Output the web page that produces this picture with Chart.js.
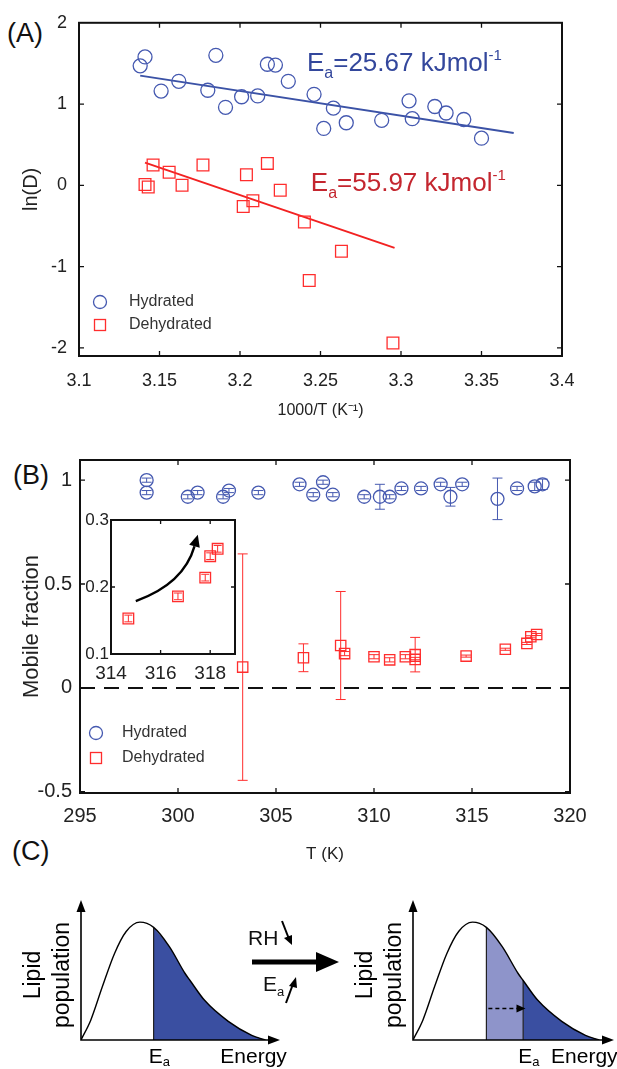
<!DOCTYPE html>
<html>
<head>
<meta charset="UTF-8" />
<title>Lipid diffusion vs temperature</title>
<script src="https://cdn.jsdelivr.net/npm/chart.js"></script>
<style>
  body { margin: 0; background: #fff; width: 617px; height: 1069px; position: relative; overflow: hidden;
         font-family: "Liberation Sans", Arial, sans-serif; color: #111; }
  canvas { position: absolute; }
  .tag { position: absolute; font-size: 27px; line-height: 1; color: #111; }
  .txt { position: absolute; line-height: 1; color: #111; white-space: nowrap; }
  sub { font-size: 62%; vertical-align: -0.35em; }
</style>
</head>
<body>
<div class="tag" style="left:7px;top:20px">(A)</div>
<div class="tag" style="left:13px;top:462px">(B)</div>
<div class="tag" style="left:12px;top:838px">(C)</div>

<canvas id="chartA" width="617" height="425" style="left:0;top:0"></canvas>
<canvas id="chartB" width="617" height="435" style="left:0;top:440px"></canvas>
<canvas id="inset" width="170" height="190" style="left:80px;top:505px"></canvas>
<canvas id="schemeL" width="300" height="189" style="left:0;top:880px"></canvas>
<canvas id="schemeR" width="287" height="189" style="left:330px;top:880px"></canvas>

<div class="txt" style="left:248px;top:927px;font-size:21px">RH</div>
<div class="txt" style="left:263px;top:973px;font-size:21px">E<sub>a</sub></div>
<svg style="position:absolute;left:230px;top:900px" width="130" height="120">
  <line x1="22" y1="62" x2="90" y2="62" stroke="#000" stroke-width="5"/>
  <polygon points="109,62 86,52 86,72" fill="#000"/>
  <line x1="52" y1="21" x2="59" y2="39" stroke="#000" stroke-width="2"/>
  <polygon points="62,45 54,38 62,35" fill="#000"/>
  <line x1="56" y1="103" x2="63" y2="84" stroke="#000" stroke-width="2"/>
  <polygon points="66,77 59,86 67,88" fill="#000"/>
</svg>

<script>
// ---------- (A) ln(D) vs 1000/T ----------
const hydInvT = [3.138, 3.141, 3.151, 3.162, 3.180, 3.185, 3.191, 3.201, 3.211, 3.217, 3.222, 3.230,
                 3.246, 3.252, 3.258, 3.266, 3.288, 3.305, 3.307, 3.321, 3.328, 3.339, 3.350];
const hydLnD  = [1.47, 1.58, 1.16, 1.28, 1.17, 1.60, 0.96, 1.09, 1.10, 1.49, 1.48, 1.28,
                 1.12, 0.70, 0.95, 0.77, 0.80, 1.04, 0.82, 0.97, 0.89, 0.81, 0.58];
const dehInvT = [3.141, 3.143, 3.146, 3.156, 3.164, 3.177, 3.202, 3.204, 3.208, 3.217, 3.225,
                 3.240, 3.243, 3.263, 3.295];
const dehLnD  = [0.01, -0.02, 0.25, 0.16, 0.00, 0.25, -0.26, 0.13, -0.19, 0.27, -0.06,
                 -0.45, -1.17, -0.81, -1.94];
const hydFitX = [3.138, 3.370];
const hydFitY = [1.35, 0.645];
const dehFitX = [3.141, 3.296];
const dehFitY = [0.28, -0.77];
const ticksInvT = [3.1, 3.15, 3.2, 3.25, 3.3, 3.35, 3.4];
const ticksLnD  = [-2, -1, 0, 1, 2];

// ---------- (B) mobile fraction vs T ----------
const hydT   = [298.4, 298.4, 300.5, 301.0, 302.3, 302.6, 304.1, 306.2, 306.9, 307.4, 307.9, 309.5,
                310.3, 310.8, 311.4, 312.4, 313.4, 313.9, 314.5, 316.3, 317.3, 318.2, 318.6];
const hydMF  = [1.00, 0.94, 0.92, 0.94, 0.92, 0.95, 0.94, 0.98, 0.93, 0.99, 0.93, 0.92,
                0.92, 0.92, 0.96, 0.96, 0.98, 0.92, 0.98, 0.91, 0.96, 0.97, 0.98];
const hydErr = [0.01, 0.01, 0.01, 0.01, 0.01, 0.01, 0.01, 0.01, 0.01, 0.01, 0.01, 0.01,
                0.06, 0.01, 0.01, 0.01, 0.01, 0.045, 0.01, 0.1, 0.01, 0.02, 0.025];
const dehT   = [303.3, 306.4, 308.3, 308.5, 310.0, 310.8, 311.6, 312.1, 312.1, 314.7, 316.7,
                317.8, 318.0, 318.3];
const dehMF  = [0.10, 0.145, 0.204, 0.165, 0.15, 0.135, 0.15, 0.16, 0.137, 0.153, 0.186,
                0.214, 0.246, 0.257];
const dehErr = [0.545, 0.067, 0.26, 0.01, 0.01, 0.01, 0.01, 0.083, 0.01, 0.005, 0.005,
                0.005, 0.005, 0.005];
const zeroLineT = [295, 320];
const zeroLineMF = [0, 0];
const ticksT  = [295, 300, 305, 310, 315, 320];
const ticksMF = [-0.5, 0, 0.5, 1];
const insetTicksT  = [314, 316, 318];
const insetTicksMF = [0.1, 0.2, 0.3];
const insetArrowT  = [315.0, 316.93, 317.5];   // start, control, tip
const insetArrowMF = [0.179, 0.2045, 0.278];

// ---------- (C) schematic energy distribution ----------
const energy     = [0, 0.49, 1.08, 1.68, 2.27, 2.96, 3.65, 4.44, 5.23, 5.48, 6.21, 7.40, 8.58, 9.27];
const population = [0, 0.17, 0.46, 0.74, 0.93, 1.01, 0.965, 0.80, 0.57, 0.51, 0.34, 0.16, 0.04, 0];
const eaBefore = 3.65;
const eaAfter  = 5.48;
const shiftArrowE = [3.75, 5.3];
const shiftArrowP = [0.27, 0.27];

const BLUE = '#4559b0', RED = '#ff2d2d', LINE_BLUE = '#3b52a6', LINE_RED = '#f22222';
const TXT_BLUE = '#33479c', TXT_RED = '#c4262f';
const FONT = '"Liberation Sans", Arial, sans-serif';

const pts = (xs, ys) => xs.map((x, i) => ({ x: x, y: ys[i] }));
const setTicks = vals => scale => { scale.ticks = vals.map(v => ({ value: v })); };

// MATLAB-like box with inward ticks
const frame = {
  id: 'frame',
  afterDraw(chart, args, o) {
    const { ctx, chartArea: a, scales: { x, y } } = chart;
    ctx.save();
    ctx.strokeStyle = '#111';
    ctx.lineWidth = 1.3;
    const L = o.tick || 5;
    ctx.beginPath();
    x.ticks.forEach(t => {
      const p = x.getPixelForValue(t.value);
      if (p <= a.left + 1 || p >= a.right - 1) return;
      ctx.moveTo(p, a.bottom); ctx.lineTo(p, a.bottom - L);
      ctx.moveTo(p, a.top); ctx.lineTo(p, a.top + L);
    });
    y.ticks.forEach(t => {
      const p = y.getPixelForValue(t.value);
      if (p <= a.top + 1 || p >= a.bottom - 1) return;
      ctx.moveTo(a.left, p); ctx.lineTo(a.left + L, p);
      ctx.moveTo(a.right, p); ctx.lineTo(a.right - L, p);
    });
    ctx.stroke();
    ctx.lineWidth = o.width || 2;
    ctx.strokeRect(a.left, a.top, a.right - a.left, a.bottom - a.top);
    ctx.restore();
  }
};

const errorBars = {
  id: 'errorBars',
  beforeDatasetsDraw(chart) {
    const { ctx, chartArea: a, scales: { x, y } } = chart;
    ctx.save();
    ctx.beginPath();
    ctx.rect(a.left, a.top, a.right - a.left, a.bottom - a.top);
    ctx.clip();
    chart.data.datasets.forEach(ds => {
      if (!ds.errors) return;
      ctx.strokeStyle = ds.borderColor;
      ctx.lineWidth = 1;
      ds.data.forEach((p, i) => {
        const e = ds.errors[i];
        const px = x.getPixelForValue(p.x);
        const y1 = y.getPixelForValue(p.y + e), y2 = y.getPixelForValue(p.y - e);
        const c = ds.capHalf;
        ctx.beginPath();
        ctx.moveTo(px, y1); ctx.lineTo(px, y2);
        ctx.moveTo(px - c, y1); ctx.lineTo(px + c, y1);
        ctx.moveTo(px - c, y2); ctx.lineTo(px + c, y2);
        ctx.stroke();
      });
    });
    ctx.restore();
  }
};

// legend drawn inside the plot box, lower left
const boxLegend = {
  id: 'boxLegend',
  afterDraw(chart, args, o) {
    const { ctx, chartArea: a } = chart;
    ctx.save();
    ctx.font = o.size + 'px ' + FONT;
    ctx.textBaseline = 'middle';
    ctx.lineWidth = 1.3;
    const mx = a.left + o.dx;
    ctx.strokeStyle = BLUE;
    ctx.beginPath(); ctx.arc(mx, a.bottom + o.dy1, 6.5, 0, 2 * Math.PI); ctx.stroke();
    ctx.strokeStyle = RED;
    ctx.strokeRect(mx - 5.5, a.bottom + o.dy2 - 5.5, 11, 11);
    ctx.fillStyle = '#333';
    ctx.fillText('Hydrated', mx + o.tx, a.bottom + o.dy1);
    ctx.fillText('Dehydrated', mx + o.tx, a.bottom + o.dy2);
    ctx.restore();
  }
};

function richText(ctx, parts, x, y) {
  parts.forEach(p => {
    ctx.font = p.size + 'px ' + FONT;
    ctx.fillText(p.t, x, y + (p.dy || 0));
    x += ctx.measureText(p.t).width;
  });
}

const eaLabels = {
  id: 'eaLabels',
  afterDatasetsDraw(chart, args, o) {
    const { ctx, scales: { x, y } } = chart;
    ctx.save();
    ctx.textBaseline = 'alphabetic';
    o.items.forEach(it => {
      ctx.fillStyle = it.color;
      richText(ctx, [
        { t: 'E', size: 26 }, { t: 'a', size: 16, dy: 7 },
        { t: '=' + it.value + ' kJmol', size: 26 }, { t: '-1', size: 15, dy: -11 }
      ], x.getPixelForValue(it.x), y.getPixelForValue(it.y));
    });
    ctx.restore();
  }
};

// ---------- chart A ----------
new Chart(document.getElementById('chartA'), {
  type: 'scatter',
  data: {
    datasets: [
      { data: pts(hydInvT, hydLnD), pointStyle: 'circle', pointRadius: 7, borderColor: BLUE,
        backgroundColor: 'rgba(0,0,0,0)', pointBorderWidth: 1.3 },
      { data: pts(dehInvT, dehLnD), pointStyle: 'rect', pointRadius: 8.3, borderColor: RED,
        backgroundColor: 'rgba(0,0,0,0)', pointBorderWidth: 1.3 },
      { data: pts(hydFitX, hydFitY), showLine: true, pointRadius: 0, borderColor: LINE_BLUE, borderWidth: 2 },
      { data: pts(dehFitX, dehFitY), showLine: true, pointRadius: 0, borderColor: LINE_RED, borderWidth: 2 }
    ]
  },
  options: {
    responsive: false, animation: false, events: [],
    layout: { padding: { top: 18, right: 55, left: 0, bottom: 0 } },
    plugins: {
      legend: { display: false }, tooltip: { enabled: false },
      frame: { width: 2, tick: 5 },
      boxLegend: { size: 16, dx: 21, dy1: -54, dy2: -31, tx: 29 },
      eaLabels: { items: [
        { x: 3.2416, y: 1.405, value: '25.67', color: TXT_BLUE },
        { x: 3.244, y: -0.075, value: '55.97', color: TXT_RED }
      ] }
    },
    scales: {
      x: {
        type: 'linear', min: 3.1, max: 3.4,
        afterBuildTicks: setTicks(ticksInvT),
        afterFit: s => { s.height = 69; },
        grid: { display: false, drawTicks: false }, border: { display: false },
        ticks: { padding: 14, color: '#222', font: { size: 18, family: FONT }, callback: v => String(v), maxRotation: 0 },
        title: { display: true, text: '1000/T (K\u207B\u00B9)', color: '#222', font: { size: 16, family: FONT },
                 padding: { top: 0, bottom: 5 } }
      },
      y: {
        min: -2.1, max: 2,
        afterBuildTicks: setTicks(ticksLnD),
        afterFit: s => { s.width = 79; },
        grid: { display: false, drawTicks: false }, border: { display: false },
        ticks: { padding: 12, color: '#222', font: { size: 18, family: FONT }, callback: v => String(v) },
        title: { display: true, text: 'ln(D)', color: '#222', font: { size: 20, family: FONT },
                 padding: { top: 19, bottom: 0 } }
      }
    }
  },
  plugins: [frame, boxLegend, eaLabels]
});

// ---------- chart B ----------
new Chart(document.getElementById('chartB'), {
  type: 'scatter',
  data: {
    datasets: [
      { data: pts(hydT, hydMF), errors: hydErr, capHalf: 5, pointStyle: 'circle', pointRadius: 6.5,
        borderColor: BLUE, backgroundColor: 'rgba(0,0,0,0)', pointBorderWidth: 1.3 },
      { data: pts(dehT, dehMF), errors: dehErr, capHalf: 5, pointStyle: 'rect', pointRadius: 7.3,
        borderColor: RED, backgroundColor: 'rgba(0,0,0,0)', pointBorderWidth: 1.3 },
      { data: pts(zeroLineT, zeroLineMF), showLine: true, pointRadius: 0, borderColor: '#111',
        borderWidth: 2, borderDash: [15, 9] }
    ]
  },
  options: {
    responsive: false, animation: false, events: [],
    layout: { padding: { top: 20, right: 47, left: 0, bottom: 0 } },
    plugins: {
      legend: { display: false }, tooltip: { enabled: false },
      frame: { width: 2, tick: 5 },
      boxLegend: { size: 16, dx: 16, dy1: -60, dy2: -35, tx: 26 }
    },
    scales: {
      x: {
        type: 'linear', min: 295, max: 320,
        afterBuildTicks: setTicks(ticksT),
        afterFit: s => { s.height = 82; },
        grid: { display: false, drawTicks: false }, border: { display: false },
        ticks: { padding: 11, color: '#222', font: { size: 20, family: FONT }, callback: v => String(v), maxRotation: 0 },
        title: { display: true, text: 'T (K)', color: '#222', font: { size: 17, family: FONT },
                 padding: { top: 0, bottom: 10 } }
      },
      y: {
        min: -0.506, max: 1.097,
        afterBuildTicks: setTicks(ticksMF),
        afterFit: s => { s.width = 80; },
        grid: { display: false, drawTicks: false }, border: { display: false },
        ticks: { padding: 8, color: '#222', font: { size: 20, family: FONT }, callback: v => String(v) },
        title: { display: true, text: 'Mobile fraction', color: '#222', font: { size: 22, family: FONT },
                 padding: { top: 19, bottom: 0 } }
      }
    }
  },
  plugins: [errorBars, frame, boxLegend]
});

// ---------- inset ----------
const insetBg = {
  id: 'insetBg',
  beforeDraw(chart) {
    const { ctx, chartArea: a } = chart;
    ctx.save(); ctx.fillStyle = '#fff';
    ctx.fillRect(a.left, a.top, a.right - a.left, a.bottom - a.top);
    ctx.restore();
  }
};
const curvedArrow = {
  id: 'curvedArrow',
  afterDatasetsDraw(chart) {
    const { ctx, scales: { x, y } } = chart;
    const p = insetArrowT.map((t, i) => [x.getPixelForValue(t), y.getPixelForValue(insetArrowMF[i])]);
    const ang = Math.atan2(p[2][1] - p[1][1], p[2][0] - p[1][0]);
    const hl = 12, hw = 5.5;
    const bx = p[2][0] - hl * Math.cos(ang), by = p[2][1] - hl * Math.sin(ang);
    ctx.save();
    ctx.strokeStyle = '#000'; ctx.fillStyle = '#000'; ctx.lineWidth = 2.5;
    ctx.beginPath();
    ctx.moveTo(p[0][0], p[0][1]);
    ctx.quadraticCurveTo(p[1][0], p[1][1], bx, by);
    ctx.stroke();
    ctx.beginPath();
    ctx.moveTo(p[2][0], p[2][1]);
    ctx.lineTo(bx + hw * Math.sin(ang), by - hw * Math.cos(ang));
    ctx.lineTo(bx - hw * Math.sin(ang), by + hw * Math.cos(ang));
    ctx.closePath(); ctx.fill();
    ctx.restore();
  }
};
const insetT = dehT.filter(t => t >= 314);
const insetIdx = dehT.map((t, i) => i).filter(i => dehT[i] >= 314);
new Chart(document.getElementById('inset'), {
  type: 'scatter',
  data: {
    datasets: [
      { data: pts(insetT, insetIdx.map(i => dehMF[i])), errors: insetIdx.map(i => dehErr[i]), capHalf: 4,
        pointStyle: 'rect', pointRadius: 7.5, borderColor: RED, backgroundColor: 'rgba(0,0,0,0)', pointBorderWidth: 1.3 }
    ]
  },
  options: {
    responsive: false, animation: false, events: [],
    layout: { padding: { top: 15, right: 15, left: 0, bottom: 0 } },
    plugins: { legend: { display: false }, tooltip: { enabled: false }, frame: { width: 2, tick: 4 } },
    scales: {
      x: {
        type: 'linear', min: 314, max: 319,
        afterBuildTicks: setTicks(insetTicksT),
        afterFit: s => { s.height = 41; },
        grid: { display: false, drawTicks: false }, border: { display: false },
        ticks: { padding: 8, color: '#222', font: { size: 19, family: '"Liberation Sans Narrow", ' + FONT }, callback: v => String(v), maxRotation: 0 }
      },
      y: {
        min: 0.1, max: 0.3,
        afterBuildTicks: setTicks(insetTicksMF),
        afterFit: s => { s.width = 31; },
        grid: { display: false, drawTicks: false }, border: { display: false },
        ticks: { padding: 2, color: '#222', font: { size: 17, family: '"Liberation Sans Narrow", ' + FONT }, callback: v => String(v) }
      }
    }
  },
  plugins: [insetBg, errorBars, frame, curvedArrow]
});

// ---------- (C) schematics ----------
const schemeDecor = {
  id: 'schemeDecor',
  afterDraw(chart, args, o) {
    const { ctx, chartArea: a, scales: { x } } = chart;
    ctx.save();
    ctx.strokeStyle = '#000'; ctx.fillStyle = '#000'; ctx.lineWidth = 1.6;
    ctx.beginPath();
    ctx.moveTo(a.left, a.top + 8); ctx.lineTo(a.left, a.bottom); ctx.lineTo(a.right - 8, a.bottom);
    ctx.stroke();
    ctx.beginPath();
    ctx.moveTo(a.left, a.top); ctx.lineTo(a.left - 4.5, a.top + 12); ctx.lineTo(a.left + 4.5, a.top + 12);
    ctx.closePath(); ctx.fill();
    ctx.beginPath();
    ctx.moveTo(a.right, a.bottom); ctx.lineTo(a.right - 12, a.bottom - 4.5); ctx.lineTo(a.right - 12, a.bottom + 4.5);
    ctx.closePath(); ctx.fill();
    ctx.textBaseline = 'top';
    richText(ctx, [{ t: 'E', size: 21 }, { t: 'a', size: 13, dy: 9 }], x.getPixelForValue(o.ea) - 5, a.bottom + 7);
    ctx.font = '21px ' + FONT;
    ctx.fillText('Energy', x.getPixelForValue(o.energyAt), a.bottom + 7);
    ctx.translate(a.left, (a.top + a.bottom) / 2 + 5);
    ctx.rotate(-Math.PI / 2);
    ctx.textAlign = 'center'; ctx.textBaseline = 'middle';
    ctx.font = '23px ' + FONT;
    ctx.fillText('Lipid', 0, -47);
    ctx.fillText('population', 0, -18);
    ctx.restore();
  }
};
const dashHead = {
  id: 'dashHead',
  afterDatasetsDraw(chart, args, o) {
    if (!o.on) return;
    const { ctx, scales: { x, y } } = chart;
    const px = x.getPixelForValue(shiftArrowE[1]), py = y.getPixelForValue(shiftArrowP[1]);
    ctx.save(); ctx.fillStyle = '#000';
    ctx.beginPath(); ctx.moveTo(px + 6, py); ctx.lineTo(px - 3, py - 4); ctx.lineTo(px - 3, py + 4); ctx.closePath(); ctx.fill();
    ctx.restore();
  }
};

const curveData = pts(energy, population);
const tail = ea => curveData.filter(p => p.x >= ea);
const between = (e1, e2) => curveData.filter(p => p.x >= e1 && p.x <= e2);
const popAt = ea => population[energy.indexOf(ea)];
const lineDs = d => ({ data: d, showLine: true, pointRadius: 0, borderColor: '#000', borderWidth: 1.4,
                       cubicInterpolationMode: 'monotone', fill: false });
const fillDs = (d, c) => ({ data: d, showLine: true, pointRadius: 0, borderWidth: 0, borderColor: c,
                            backgroundColor: c, cubicInterpolationMode: 'monotone', fill: 'origin' });
const vline = ea => ({ data: [{ x: ea, y: 0 }, { x: ea, y: popAt(ea) }], showLine: true, pointRadius: 0,
                       borderColor: '#111', borderWidth: 1.1 });
const schemeOpts = (padLeft, padRight, decor, head) => ({
  responsive: false, animation: false, events: [],
  layout: { padding: { top: 20, left: padLeft, right: padRight, bottom: 29 } },
  plugins: { legend: { display: false }, tooltip: { enabled: false }, schemeDecor: decor, dashHead: { on: head } },
  scales: { x: { type: 'linear', min: 0, max: 10, display: false }, y: { min: 0, max: 1.2, display: false } }
});

new Chart(document.getElementById('schemeL'), {
  type: 'scatter',
  data: { datasets: [lineDs(curveData), vline(eaBefore), fillDs(tail(eaBefore), '#3a4fa1')] },
  options: schemeOpts(81, 20, { ea: eaBefore, energyAt: 7.0 }, false),
  plugins: [schemeDecor, dashHead]
});

new Chart(document.getElementById('schemeR'), {
  type: 'scatter',
  data: { datasets: [
    lineDs(curveData), vline(eaBefore), vline(eaAfter),
    { data: pts(shiftArrowE, shiftArrowP), showLine: true, pointRadius: 0, borderColor: '#000', borderWidth: 1.3, borderDash: [4, 3] },
    fillDs(between(eaBefore, eaAfter), '#8e94ca'), fillDs(tail(eaAfter), '#3a4fa1')
  ] },
  options: schemeOpts(83, 3, { ea: eaAfter, energyAt: 6.87 }, true),
  plugins: [schemeDecor, dashHead]
});
</script>
</body>
</html>
